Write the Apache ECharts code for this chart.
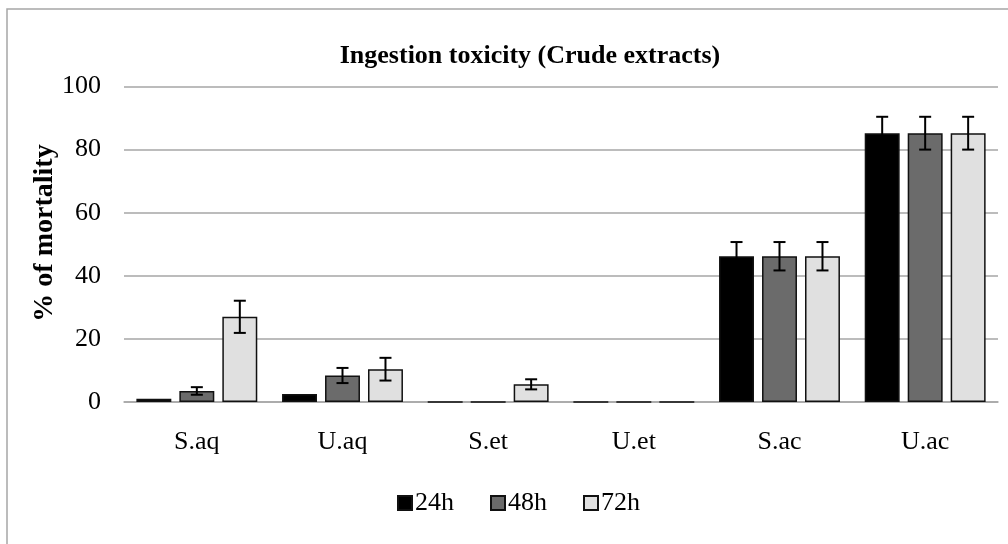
<!DOCTYPE html>
<html>
<head>
<meta charset="utf-8">
<script src="https://cdn.jsdelivr.net/npm/echarts@6/dist/echarts.min.js"></script>
<style>
html,body{margin:0;padding:0;background:#fff;}
#main{width:1008px;height:544px;}
</style>
</head>
<body>
<div id="main"></div>
<script>
var categories = ['S.aq', 'U.aq', 'S.et', 'U.et', 'S.ac', 'U.ac'];
var seriesNames = ['24h', '48h', '72h'];
var values24 = [1, 2.5, 0, 0, 46.2, 85.2];
var values48 = [3.5, 8.4, 0, 0, 46.2, 85.2];
var values72 = [27, 10.4, 5.6, 0, 46.2, 85.2];
var errors24 = [0, 0, 0, 0, 4.5, 5.2];
var errors48 = [1.2, 2.4, 0, 0, 4.5, 5.2];
var errors72 = [5.1, 3.6, 1.6, 0, 4.5, 5.2];
var yTicks = [0, 20, 40, 60, 80, 100];
var yAxisTitle = '% of mortality';

var values = [values24, values48, values72];
var errors = [errors24, errors48, errors72];
var fills = ['#000000', '#6b6b6b', '#e0e0e0'];
var CAT_GAP = 0.17, BAR_GAP = 0.23;

var chart = echarts.init(document.getElementById('main'));

var series = [];
seriesNames.forEach(function (name, i) {
  series.push({
    name: name,
    type: 'bar',
    data: values[i],
    barCategoryGap: (CAT_GAP * 100) + '%',
    barGap: (BAR_GAP * 100) + '%',
    itemStyle: { color: fills[i], borderColor: '#111', borderWidth: 1.5 },
    emphasis: { disabled: true }
  });
});
seriesNames.forEach(function (name, i) {
  var errData = categories.map(function (c, k) {
    return [k, values[i][k], errors[i][k]];
  });
  series.push({
    type: 'custom',
    name: 'err' + i,
    silent: true,
    z: 10,
    data: errData,
    renderItem: function (params, api) {
      var k = api.value(0), v = api.value(1), e = api.value(2);
      if (!e) return;
      var band = api.size([1, 0])[0];
      var bw = band * (1 - CAT_GAP) / (3 + 2 * BAR_GAP);
      var center = api.coord([k, v])[0] + (i - 1) * bw * (1 + BAR_GAP);
      var top = api.coord([k, v + e])[1];
      var bot = api.coord([k, v - e])[1];
      var cap = 6;
      var st = { stroke: '#000', lineWidth: 2 };
      return {
        type: 'group',
        children: [
          { type: 'line', shape: { x1: center, y1: top, x2: center, y2: bot }, style: st },
          { type: 'line', shape: { x1: center - cap, y1: top, x2: center + cap, y2: top }, style: st },
          { type: 'line', shape: { x1: center - cap, y1: bot, x2: center + cap, y2: bot }, style: st }
        ]
      };
    }
  });
});

chart.setOption({
  animation: false,
  backgroundColor: '#fff',
  textStyle: { fontFamily: 'Liberation Serif', color: '#000' },
  graphic: [{
    type: 'rect',
    shape: { x: 7, y: 9, width: 1010, height: 550 },
    style: { fill: 'none', stroke: '#a6a6a6', lineWidth: 1.5 },
    z: -1
  }, {
    type: 'text',
    x: 45, y: 233,
    rotation: Math.PI / 2,
    style: {
      text: yAxisTitle,
      fontFamily: 'Liberation Serif', fontWeight: 'bold', fontSize: 28,
      fill: '#000', align: 'center', verticalAlign: 'middle'
    }
  }],
  title: {
    text: 'Ingestion toxicity (Crude extracts)',
    left: 525, top: 38, textAlign: 'center',
    textStyle: { fontFamily: 'Liberation Serif', fontWeight: 'bold', fontSize: 26, color: '#000' }
  },
  legend: {
    data: seriesNames,
    left: 392, top: 485,
    icon: 'rect', itemWidth: 14, itemHeight: 14, itemGap: 36,
    textStyle: { fontFamily: 'Liberation Serif', fontSize: 26, color: '#000', padding: [0, 0, 0, -2] }
  },
  grid: { left: 124, right: 10, top: 86.5, bottom: 142, containLabel: false },
  xAxis: {
    type: 'category',
    data: categories,
    axisLine: { lineStyle: { color: '#a6a6a6', width: 1.5 } },
    axisTick: { show: false },
    axisLabel: { margin: 27, fontSize: 26, color: '#000', fontFamily: 'Liberation Serif' }
  },
  yAxis: {
    type: 'value',
    min: yTicks[0], max: yTicks[yTicks.length - 1], interval: 20,
    axisLine: { show: false },
    axisTick: { show: false },
    splitLine: { lineStyle: { color: '#a6a6a6', width: 1.5 } },
    axisLabel: { margin: 23, fontSize: 26, color: '#000', fontFamily: 'Liberation Serif' }
  },
  series: series
});
</script>
</body>
</html>
